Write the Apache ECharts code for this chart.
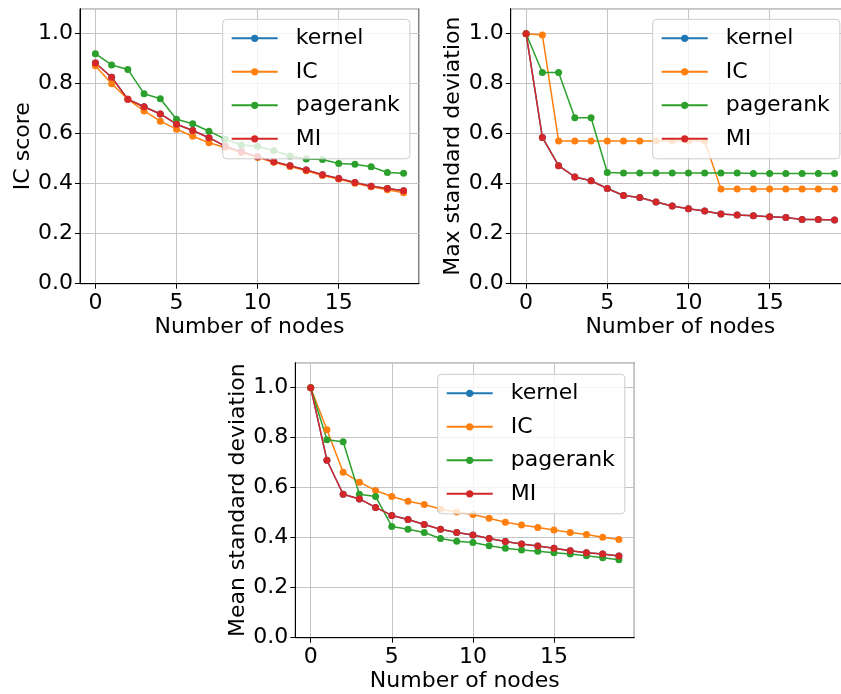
<!DOCTYPE html>
<html>
<head>
<meta charset="utf-8">
<script src="https://cdn.jsdelivr.net/npm/echarts@6/dist/echarts.min.js"></script>
<style>
  html, body { margin: 0; padding: 0; background: #fff; overflow: hidden; }
  #chart { width: 860px; height: 694px; }
</style>
</head>
<body>
<div id="chart"></div>
<script>
const nodes = [0, 1, 2, 3, 4, 5, 6, 7, 8, 9, 10, 11, 12, 13, 14, 15, 16, 17, 18, 19]
const seriesNames = ['kernel', 'IC', 'pagerank', 'MI']
const colors = ['#1f77b4', '#ff7f0e', '#2ca02c', '#d62728']
const yTicks = [0, 0.2, 0.4, 0.6, 0.8, 1.0]

// IC score
const icKernel = [0.883, 0.826, 0.738, 0.708, 0.679, 0.638, 0.613, 0.584, 0.55, 0.528, 0.508, 0.488, 0.472, 0.455, 0.436, 0.421, 0.405, 0.39, 0.381, 0.372]
const icIC = [0.872, 0.8, 0.738, 0.691, 0.65, 0.618, 0.59, 0.564, 0.545, 0.525, 0.505, 0.486, 0.469, 0.452, 0.433, 0.419, 0.402, 0.388, 0.376, 0.364]
const icPagerank = [0.92, 0.875, 0.857, 0.76, 0.74, 0.658, 0.64, 0.61, 0.578, 0.555, 0.55, 0.532, 0.511, 0.499, 0.497, 0.481, 0.478, 0.468, 0.445, 0.442]
const icMI = [0.883, 0.826, 0.738, 0.708, 0.679, 0.638, 0.613, 0.584, 0.55, 0.528, 0.508, 0.488, 0.472, 0.455, 0.436, 0.421, 0.405, 0.39, 0.381, 0.372]

// Max standard deviation
const maxKernel = [1.0, 0.585, 0.472, 0.427, 0.412, 0.381, 0.353, 0.345, 0.327, 0.311, 0.3, 0.291, 0.279, 0.275, 0.272, 0.268, 0.265, 0.257, 0.257, 0.255]
const maxIC = [1.0, 0.995, 0.571, 0.571, 0.571, 0.571, 0.571, 0.571, 0.571, 0.571, 0.571, 0.571, 0.379, 0.379, 0.379, 0.379, 0.379, 0.379, 0.379, 0.379]
const maxPagerank = [1.0, 0.845, 0.845, 0.664, 0.664, 0.445, 0.443, 0.443, 0.443, 0.443, 0.443, 0.443, 0.443, 0.443, 0.441, 0.441, 0.441, 0.441, 0.441, 0.441]
const maxMI = [1.0, 0.585, 0.472, 0.427, 0.412, 0.381, 0.353, 0.345, 0.327, 0.311, 0.3, 0.291, 0.279, 0.275, 0.272, 0.268, 0.265, 0.257, 0.257, 0.255]

// Mean standard deviation
const meanKernel = [1.0, 0.71, 0.574, 0.555, 0.521, 0.489, 0.473, 0.453, 0.434, 0.421, 0.411, 0.397, 0.385, 0.375, 0.367, 0.358, 0.348, 0.34, 0.335, 0.327]
const meanIC = [1.0, 0.832, 0.662, 0.622, 0.589, 0.565, 0.546, 0.533, 0.515, 0.503, 0.493, 0.478, 0.462, 0.451, 0.441, 0.431, 0.421, 0.413, 0.402, 0.393]
const meanPagerank = [1.0, 0.792, 0.784, 0.574, 0.565, 0.445, 0.434, 0.421, 0.397, 0.386, 0.381, 0.368, 0.358, 0.351, 0.346, 0.34, 0.335, 0.328, 0.32, 0.312]
const meanMI = [1.0, 0.71, 0.574, 0.555, 0.521, 0.489, 0.473, 0.453, 0.434, 0.421, 0.411, 0.397, 0.385, 0.375, 0.367, 0.358, 0.348, 0.34, 0.335, 0.327]

// panel placement (the right panel runs past the picture's edge, as in the original)
const panels = [
  { yName: 'IC score', data: [icKernel, icIC, icPagerank, icMI],
    grid: { left: 80, top: 8.7, width: 339, height: 275 }, legend: { left: 222.7, top: 19.3 } },
  { yName: 'Max standard deviation', data: [maxKernel, maxIC, maxPagerank, maxMI],
    grid: { left: 510.7, top: 8.7, width: 339.3, height: 275 }, legend: { left: 652.7, top: 19.3 } },
  { yName: 'Mean standard deviation', data: [meanKernel, meanIC, meanPagerank, meanMI],
    grid: { left: 295.3, top: 362.7, width: 339, height: 275 }, legend: { left: 437.7, top: 374.3 } }
]

const font = 'DejaVu Sans'
const fs = 22

const grids = []
const xAxes = []
const yAxes = []
const legends = []
const series = []

panels.forEach(function(p, i) {
  grids.push(Object.assign({
    show: true,
    borderColor: '#000',
    borderWidth: 1,
    containLabel: false
  }, p.grid))
  xAxes.push({
    type: 'value',
    gridIndex: i,
    min: -0.95,
    max: 19.95,
    splitNumber: 5,
    name: 'Number of nodes',
    nameLocation: 'middle',
    nameGap: 33,
    nameTextStyle: { fontFamily: font, fontSize: fs, color: '#000' },
    axisLine: { onZero: false, lineStyle: { color: '#000', width: 1 } },
    axisTick: { show: true, length: 5, lineStyle: { color: '#000' } },
    axisLabel: {
      fontFamily: font, fontSize: fs, color: '#000', margin: 9,
      showMinLabel: false, showMaxLabel: false
    },
    splitLine: { show: true, lineStyle: { color: '#c4c4c4', width: 1 } }
  })
  yAxes.push({
    type: 'value',
    gridIndex: i,
    min: 0,
    max: 1.1,
    interval: 0.2,
    name: p.yName,
    nameLocation: 'middle',
    nameGap: 46,
    nameTextStyle: { fontFamily: font, fontSize: fs, color: '#000' },
    axisLine: { onZero: false, lineStyle: { color: '#000', width: 1 } },
    axisTick: { show: true, length: 5, lineStyle: { color: '#000' } },
    axisLabel: {
      fontFamily: font, fontSize: fs, color: '#000', margin: 7,
      showMaxLabel: false,
      formatter: function(v) { return yTicks.indexOf(Math.round(v * 10) / 10) >= 0 ? v.toFixed(1) : '' }
    },
    splitLine: { show: true, lineStyle: { color: '#c4c4c4', width: 1 } }
  })
  const legendData = []
  p.data.forEach(function(vals, k) {
    const name = seriesNames[k]
    legendData.push(name)
    series.push({
      name: name,
      type: 'line',
      xAxisIndex: i,
      yAxisIndex: i,
      data: nodes.map(function(n, j) { return [n, vals[j]] }),
      symbol: 'circle',
      symbolSize: 7,
      showAllSymbol: true,
      color: colors[k],
      lineStyle: { width: 1.5, color: colors[k] },
      itemStyle: { color: colors[k] },
      emphasis: { disabled: true }
    })
  })
  legends.push(Object.assign({
    orient: 'vertical',
    data: legendData,
    itemWidth: 46,
    itemHeight: 9,
    itemGap: 11.5,
    padding: [8, 10, 9, 8],
    backgroundColor: 'rgba(255,255,255,0.8)',
    borderColor: '#cccccc',
    borderWidth: 1,
    borderRadius: 4,
    selectedMode: false,
    textStyle: { fontFamily: font, fontSize: fs, color: '#000', padding: [0, 0, 0, 13] }
  }, p.legend))
})

const myChart = echarts.init(document.getElementById('chart'))
myChart.setOption({
  animation: false,
  grid: grids,
  xAxis: xAxes,
  yAxis: yAxes,
  legend: legends,
  series: series
})
</script>
</body>
</html>
